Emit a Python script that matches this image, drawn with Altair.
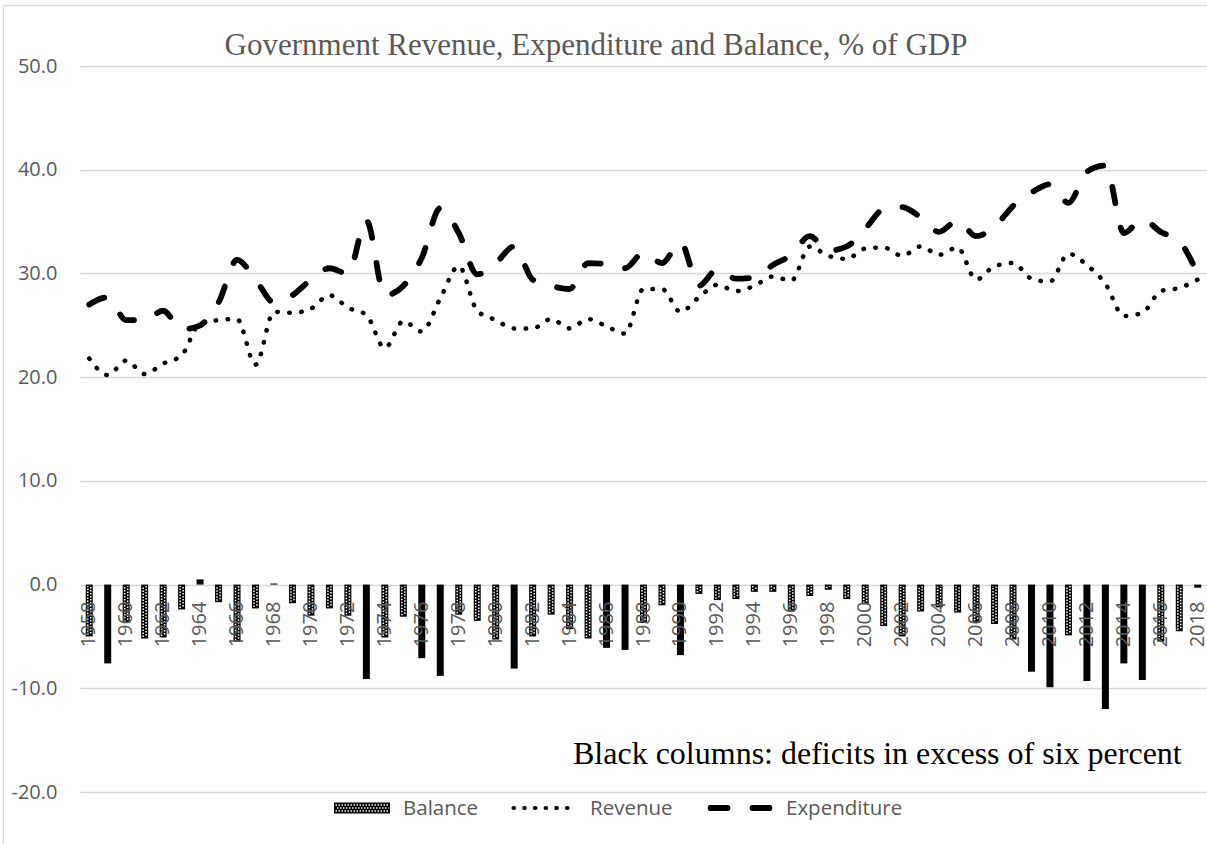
import altair as alt
import pandas as pd

# ---- data -----------------------------------------------------------------
years = list(range(1958, 2019))

balance = [
    -5.0, -7.6, -3.7, -5.2, -5.1, -2.4, 0.5, -1.7, -5.5, -2.3,
    0.1, -1.8, -3.0, -2.3, -3.0, -9.1, -5.1, -3.1, -7.1, -8.8,
    -2.9, -3.5, -5.3, -8.1, -5.0, -2.9, -4.3, -5.2, -6.1, -6.3,
    -3.7, -2.0, -6.8, -0.9, -1.5, -1.4, -0.7, -0.7, -2.6, -1.1,
    -0.5, -1.4, -1.9, -4.0, -5.0, -2.6, -2.2, -2.7, -3.6, -3.8,
    -5.3, -8.4, -9.9, -4.9, -9.3, -12.0, -7.6, -9.2, -5.5, -4.5,
    -0.3,
]

revenue = [
    21.8, 20.2, 21.6, 20.3, 21.3, 22.1, 25.2, 25.5, 25.6, 21.2,
    26.3, 26.2, 26.6, 27.9, 26.7, 26.0, 22.8, 25.4, 24.4, 27.6,
    30.7, 26.4, 25.5, 24.7, 24.7, 25.6, 24.7, 25.6, 24.9, 24.2,
    28.5, 28.5, 26.3, 27.7, 28.9, 28.3, 28.8, 29.7, 29.3, 32.6,
    31.7, 31.4, 32.4, 32.5, 31.7, 32.6, 31.8, 32.5, 29.4, 30.7,
    31.0, 29.5, 29.2, 31.9, 30.8, 29.0, 25.9, 26.2, 28.3, 28.6,
    29.4,
]

expenditure = [
    27.0, 27.7, 25.5, 25.5, 26.4, 24.6, 25.0, 27.2, 31.3, 29.4,
    27.2, 27.9, 29.4, 30.5, 30.0, 35.1, 27.9, 28.8, 31.5, 36.3,
    33.9, 29.9, 31.0, 32.6, 29.4, 28.8, 28.5, 31.0, 30.9, 30.5,
    32.0, 31.0, 33.0, 28.8, 30.4, 29.5, 29.6, 30.8, 31.8, 33.6,
    32.2, 32.6, 34.3, 36.2, 36.4, 35.4, 34.0, 35.1, 33.6, 34.5,
    36.5, 37.8, 38.6, 36.8, 39.8, 40.4, 33.9, 35.2, 34.0, 33.1,
    29.9,
]

series_names = ["Balance", "Revenue", "Expenditure"]
chart_title = "Government Revenue, Expenditure and Balance, % of GDP"
note_text = "Black columns: deficits in excess of six percent"
y_ticks = [-20, -10, 0, 10, 20, 30, 40, 50]
deficit_limit = -6

df = pd.DataFrame({
    "year": years,
    "balance": balance,
    "revenue": revenue,
    "expenditure": expenditure,
})

# ---- styling ----------------------------------------------------------------
GREY_TEXT = "#595959"
GRID_GREY = "#d9d9d9"
SANS = "Open Sans"
SERIF = "Liberation Serif"
W, H = 1127, 726

x_scale = alt.Scale(paddingInner=0, paddingOuter=0)
x_band = alt.X("year:O", axis=None, scale=x_scale)
x_mid = alt.X("year:O", axis=None, scale=x_scale, bandPosition=0.5)
y_scale = alt.Scale(domain=[-20, 50], nice=False)

# one axis definition shared by every layer so the layers merge cleanly
y_axis = alt.Axis(
    values=y_ticks,
    labelExpr="(datum.value < 0 ? '-' : '') + format(abs(datum.value), '.1f')",
    title=None,
    domain=False,
    ticks=False,
    labelPadding=23,
    labelFont=SANS,
    labelFontSize=20,
    labelColor=GREY_TEXT,
    grid=True,
    gridColor=GRID_GREY,
    gridWidth=1.3,
)


def y_of(field):
    return alt.Y(field, scale=y_scale, axis=y_axis, title=None)


base = alt.Chart(df)

# balance columns (all drawn solid first)
bars = base.mark_bar(size=7, color="black").encode(
    x=x_band, y=y_of("balance:Q")
)

# checker pattern inside the columns that are not large deficits
hatched = base.transform_filter(
    f"datum.balance >= {deficit_limit} && datum.balance < -0.3"
)
hatch_cols = [
    hatched.mark_rule(
        color="white", strokeWidth=1.5, strokeDash=[1.5, 1.5],
        strokeDashOffset=off, xOffset=dx, yOffset=-1.4, y2Offset=1.4,
    ).encode(
        x=x_mid,
        y=y_of("balance:Q"),
        y2=alt.datum(0),
    )
    for dx, off in [(-1.5, 0), (1.5, 1.5)]
]

rev_line = base.mark_line(
    color="black", strokeWidth=4.5, strokeDash=[0.5, 11.5],
    strokeCap="round", interpolate="monotone",
).encode(x=x_mid, y=y_of("revenue:Q"))

exp_line = base.mark_line(
    color="black", strokeWidth=5.8, strokeDash=[16.5, 25],
    strokeCap="round", interpolate="monotone",
).encode(x=x_mid, y=y_of("expenditure:Q"))

# category labels sit on the zero line, rotated
year_labels = base.transform_filter("datum.year % 2 == 0").mark_text(
    angle=270, align="right", baseline="middle", font=SANS, fontSize=20,
    color=GREY_TEXT, yOffset=17,
).encode(
    x=x_mid,
    y=alt.Y(datum=0, scale=y_scale, axis=y_axis, title=None),
    text="year:N",
)


def one_row(value):
    return alt.Chart(pd.DataFrame({"t": [value]}))


def pixel_text(value, x, y, **kw):
    return one_row(value).mark_text(**kw).encode(
        x=alt.value(x), y=alt.value(y), text="t:N"
    )


title = pixel_text(chart_title, 516, -11, font=SERIF, fontSize=31,
                   color=GREY_TEXT, align="center", baseline="alphabetic")
note = pixel_text(note_text, 493, 698, font=SERIF, fontSize=32,
                  color="black", align="left", baseline="alphabetic")

# outer frame (top and left edges)
frame_left = one_row("frame").mark_rule(color=GRID_GREY, strokeWidth=1.3).encode(
    x=alt.value(-76.5), y=alt.value(-60.3), y2=alt.value(H + 60)
)
frame_top = one_row("frame").mark_rule(color=GRID_GREY, strokeWidth=1.3).encode(
    y=alt.value(-60.3), x=alt.value(-76.5), x2=alt.value(W)
)

# ---- legend ---------------------------------------------------------------
LEG_Y = 742
leg_bal_box = one_row(series_names[0]).mark_rect(color="black").encode(
    x=alt.value(254), x2=alt.value(310),
    y=alt.value(LEG_Y - 5.5), y2=alt.value(LEG_Y + 5.5),
)
leg_bal_rows = [
    one_row(series_names[0]).mark_rule(
        color="white", strokeWidth=1.5, strokeDash=[1.5, 1.5], strokeDashOffset=off
    ).encode(x=alt.value(255.5), x2=alt.value(308.5), y=alt.value(LEG_Y + dy))
    for dy, off in [(-3, 0), (0, 1.5), (3, 0)]
]
leg_rev = one_row(series_names[1]).mark_rule(
    color="black", strokeWidth=4.2, strokeDash=[0.5, 10.2], strokeCap="round"
).encode(x=alt.value(433.5), x2=alt.value(497.5), y=alt.value(LEG_Y))
leg_exp = one_row(series_names[2]).mark_rule(
    color="black", strokeWidth=5.8, strokeDash=[17, 25], strokeCap="round"
).encode(x=alt.value(630.5), x2=alt.value(690.5), y=alt.value(LEG_Y))

leg_text_kw = dict(font=SANS, fontSize=20.5, color=GREY_TEXT,
                   align="left", baseline="alphabetic")
leg_labels = [
    pixel_text(series_names[0], 323, LEG_Y + 7, **leg_text_kw),
    pixel_text(series_names[1], 510, LEG_Y + 7, **leg_text_kw),
    pixel_text(series_names[2], 706, LEG_Y + 7, **leg_text_kw),
]

chart = alt.layer(
    frame_left, frame_top,
    bars, *hatch_cols,
    rev_line, exp_line,
    year_labels,
    title, note,
    leg_bal_box, *leg_bal_rows, leg_rev, leg_exp, *leg_labels,
).properties(
    width=W,
    height=H,
    padding={"left": 80, "top": 66, "right": 0, "bottom": 52},
    autosize=alt.AutoSizeParams(type="none"),
    background="white",
).configure_view(stroke=None)

chart.save("out.html", embed_options={"renderer": "svg", "actions": False})
